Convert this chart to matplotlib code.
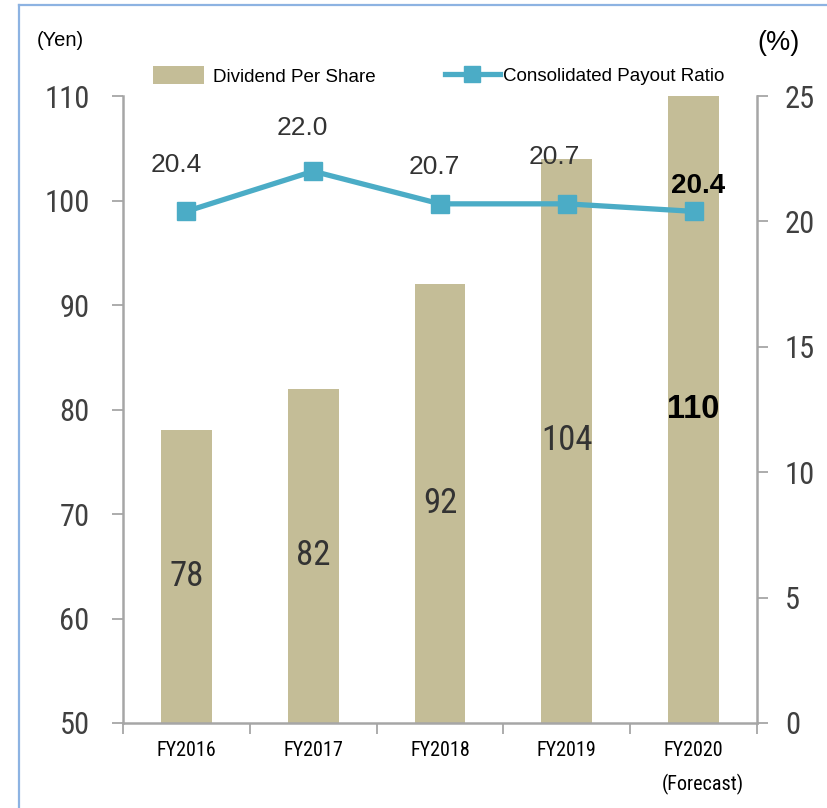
import matplotlib
matplotlib.use("Agg")
import matplotlib.pyplot as plt
from matplotlib import font_manager
from matplotlib.lines import Line2D
from matplotlib.patches import Patch


def pick(*names):
    for n in names:
        try:
            font_manager.findfont(n, fallback_to_default=False)
            return n
        except Exception:
            continue
    return "DejaVu Sans"


NARROW = pick("Liberation Sans Narrow", "Roboto Condensed", "DejaVu Sans")
REGULAR = pick("Liberation Sans", "Arial", "DejaVu Sans")

# Data
years = ["FY2016", "FY2017", "FY2018", "FY2019", "FY2020"]
dividend = [78, 82, 92, 104, 110]
payout = [20.4, 22.0, 20.7, 20.7, 20.4]
yen_ticks = [50, 60, 70, 80, 90, 100, 110]
pct_ticks = [0, 5, 10, 15, 20, 25]

BAR = "#C4BD97"
LINE = "#4BACC6"
SPINE = "#A6A6A6"
TXT = "#404040"

W, H = 828, 808
fig = plt.figure(figsize=(W / 100, H / 100), dpi=100)
fig.patch.set_facecolor("white")

# light blue frame along top and left edges
fig.add_artist(Line2D([19 / W, 19 / W], [0, 1 - 5 / H], transform=fig.transFigure,
                      color="#8DB3E2", lw=1.6))
fig.add_artist(Line2D([19 / W, 1], [1 - 5 / H, 1 - 5 / H], transform=fig.transFigure,
                      color="#8DB3E2", lw=1.6))

left, right, bottom, top = 123 / W, 757 / W, 1 - 723 / H, 1 - 96 / H
ax = fig.add_axes([left, bottom, right - left, top - bottom])
ax2 = ax.twinx()

x = list(range(len(years)))
ax.bar(x, [d - 50 for d in dividend], bottom=50, width=0.4, color=BAR, zorder=2)
ax.set_xlim(-0.5, len(years) - 0.5)
ax.set_ylim(50, 110)
ax.set_yticks(yen_ticks)
ax.set_yticklabels([str(t) for t in yen_ticks], fontfamily=NARROW, fontsize=22, color=TXT)

# category labels; ticks sit on the boundaries between categories
ax.set_xticks(x)
ax.set_xticklabels(years, fontfamily=NARROW, fontsize=14.5, color="black")
ax.tick_params(axis="x", which="major", length=0, pad=13)
ax.set_xticks([i - 0.5 for i in range(len(years) + 1)], minor=True)
ax.tick_params(axis="x", which="minor", length=8, width=1.3, color=SPINE)
ax.tick_params(axis="y", length=8, width=1.3, color=SPINE, pad=16)

for s in ["top", "right"]:
    ax.spines[s].set_visible(False)
for s in ["left", "bottom"]:
    ax.spines[s].set_color(SPINE)
    ax.spines[s].set_linewidth(1.8)

ax2.plot(x, payout, color=LINE, lw=3.8, marker="s", markersize=13, zorder=5)
ax2.set_ylim(0, 25)
ax2.set_yticks(pct_ticks)
ax2.set_yticklabels([str(t) for t in pct_ticks], fontfamily=NARROW, fontsize=22, color=TXT)
ax2.tick_params(axis="y", length=8, width=1.3, color=SPINE, pad=12)
for s in ["top", "left", "bottom"]:
    ax2.spines[s].set_visible(False)
ax2.spines["right"].set_color(SPINE)
ax2.spines["right"].set_linewidth(1.8)

# bar value labels, centred inside each bar
last = len(years) - 1
for i, d in enumerate(dividend):
    if i == last:
        ax.text(i, (50 + d) / 2, str(d), ha="center", va="center", fontsize=23.5,
                fontweight="bold", fontfamily=REGULAR, color="black", zorder=6)
    else:
        ax.text(i, (50 + d) / 2, str(d), ha="center", va="center", fontsize=25,
                fontfamily=NARROW, color="#333333", zorder=6)

# payout ratio labels above the markers
label_shift = [(-10, 46), (-11, 43), (-6, 37), (-12, 47), (4, 25)]
for i, p in enumerate(payout):
    dx, dy = label_shift[i]
    bold = i == last
    ax2.annotate(f"{p:.1f}", (i, p), xytext=(dx, dy), textcoords="offset pixels",
                 ha="center", va="center", fontfamily=REGULAR,
                 fontsize=20 if bold else 19,
                 fontweight="bold" if bold else "normal",
                 color="black" if bold else "#333333", zorder=7)

# axis unit captions and forecast note
fig.text(37 / W, 1 - 41 / H, "(Yen)", fontfamily=REGULAR, fontsize=14.5,
         ha="left", va="center", color="black")
fig.text(779 / W, 1 - 43 / H, "(%)", fontfamily=REGULAR, fontsize=19.5,
         ha="center", va="center", color="black")
fig.text(703 / W, 1 - 784 / H, "(Forecast)", fontfamily=NARROW, fontsize=14.5,
         ha="center", va="center", color="black")

# legend
handles = [Patch(facecolor=BAR, edgecolor="none"),
           Line2D([0], [0], color=LINE, lw=3.8, marker="s", markersize=11.5)]
fig.legend(handles[:1], ["Dividend Per Share"], loc="center left",
           bbox_to_anchor=(136 / W, 1 - 76 / H), frameon=False, handlelength=2.7,
           handleheight=1.1, handletextpad=0.53,
           prop={"family": REGULAR, "size": 13.5})
fig.legend(handles[1:], ["Consolidated Payout Ratio"], loc="center left",
           bbox_to_anchor=(428 / W, 1 - 76 / H), frameon=False, handlelength=2.93,
           handletextpad=0.15, prop={"family": REGULAR, "size": 13.5})

fig.savefig("out.png", dpi=100, facecolor="white")
